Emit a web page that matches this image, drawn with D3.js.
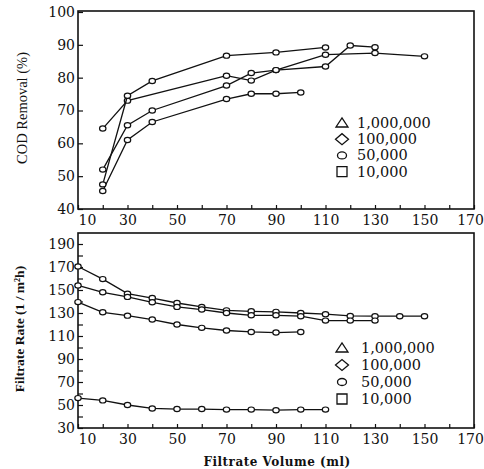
<!DOCTYPE html>
<html>
<head>
<meta charset="utf-8">
<script src="https://cdn.jsdelivr.net/npm/d3@7"></script>
<style>
  body { margin: 0; background: #fff; }
  svg { display: block; }
  .tick text { font-family: "DejaVu Serif", serif; font-size: 14px; fill: #111; }
  .tick line { stroke: #111; stroke-width: 1.2; }
  .domain { display: none; }
</style>
</head>
<body>
<svg width="484" height="469"></svg>
<script>
// legend labels (molecular weight cut-off)
var seriesNames = ["1,000,000", "100,000", "50,000", "10,000"];

// top panel: COD removal (%) vs filtrate volume (ml)
var codX_1M = [20, 30, 70, 80, 90, 110, 130, 150];
var codY_1M = [64.5, 73, 80.6, 79.1, 82.3, 87, 87.5, 86.5];
var codX_100k = [20, 30, 40, 70, 80, 90, 110, 120, 130];
var codY_100k = [52, 65.5, 70, 77.6, 81.4, 82.3, 83.4, 89.8, 89.3];
var codX_50k = [20, 30, 40, 70, 80, 90, 100];
var codY_50k = [45.5, 61, 66.5, 73.5, 75.1, 75.1, 75.5];
var codX_10k = [20, 30, 40, 70, 90, 110];
var codY_10k = [47.5, 74.5, 79, 86.7, 87.7, 89.2];

// bottom panel: filtrate rate (l/m2h) vs filtrate volume (ml)
var rateX_1M = [10, 20, 30, 40, 50, 60, 70, 80, 90, 100, 110, 120, 130, 140, 150];
var rateY_1M = [170.4, 159.5, 146.8, 143, 138.7, 135.3, 132.3, 131.5, 131, 130, 129, 127.5, 127.2, 127.2, 127.2];
var rateX_100k = [10, 20, 30, 40, 50, 60, 70, 80, 90, 100, 110, 120, 130];
var rateY_100k = [154, 148, 144, 139.3, 135.3, 133, 130, 128, 128, 127.2, 123.4, 123.4, 123.4];
var rateX_50k = [10, 20, 30, 40, 50, 60, 70, 80, 90, 100];
var rateY_50k = [139.5, 130.6, 127.7, 124.3, 120, 117.1, 114.8, 113.5, 113, 113.5];
var rateX_10k = [10, 20, 30, 40, 50, 60, 70, 80, 90, 100, 110];
var rateY_10k = [56, 54, 50, 47, 46.5, 46.5, 46, 46, 45.5, 46, 46];

var xTicks = d3.range(10, 171, 10);

var svg = d3.select("svg");

function zip(xs, ys) {
  return xs.map(function(d, i) { return [d, ys[i]]; });
}

// legend symbol shapes
function symbolPath(i) {
  if (i == 0) return "M-6,4L6,4L0,-5Z";
  if (i == 1) return "M-6.5,0L0,-5.5L6.5,0L0,5.5Z";
  if (i == 2) return "M-4.5,0A4.5,3.5 0 1,0 4.5,0A4.5,3.5 0 1,0 -4.5,0Z";
  return "M-5,-5L5,-5L5,5L-5,5Z";
}

function drawPanel(p) {
  var x = d3.scaleLinear().domain([10, 170]).range([78, 474]);
  var y = d3.scaleLinear().domain(p.yDomain).range([p.bottom, p.yTop]);
  var g = svg.append("g");

  // frame
  g.append("rect")
    .attr("x", 78)
    .attr("y", p.frameTop)
    .attr("width", 474 - 78)
    .attr("height", p.bottom - p.frameTop)
    .attr("fill", "none")
    .attr("stroke", "#111")
    .attr("stroke-width", 1.6);

  // x axis
  var xa = g.append("g")
    .attr("transform", "translate(0," + p.bottom + ")")
    .call(d3.axisBottom(x)
      .tickValues(xTicks)
      .tickSizeInner(-4)
      .tickSizeOuter(0)
      .tickPadding(6)
      .tickFormat(function(d) { return d % 20 == 10 ? d : ""; }));
  xa.selectAll(".tick text")
    .attr("dx", function(d) { return d == 10 ? 9 : (d == 170 ? -4 : 0); });

  // y axis
  g.append("g")
    .attr("transform", "translate(78,0)")
    .call(d3.axisLeft(y)
      .tickValues(p.yTicks)
      .tickSizeInner(-5)
      .tickSizeOuter(0)
      .tickPadding(3)
      .tickFormat(function(d) { return p.yLabels.indexOf(d) >= 0 ? d : ""; }));

  var line = d3.line()
    .x(function(d) { return x(d[0]); })
    .y(function(d) { return y(d[1]); });

  p.series.forEach(function(s) {
    g.append("path")
      .attr("d", line(s))
      .attr("fill", "none")
      .attr("stroke", "#111")
      .attr("stroke-width", 1.3);
    g.selectAll(null)
      .data(s)
      .enter().append("ellipse")
      .attr("cx", function(d) { return x(d[0]); })
      .attr("cy", function(d) { return y(d[1]); })
      .attr("rx", 3.2)
      .attr("ry", 2.6)
      .attr("fill", "#fff")
      .attr("stroke", "#111")
      .attr("stroke-width", 1.2);
  });

  // legend
  var lg = g.selectAll(".leg")
    .data(seriesNames)
    .enter().append("g")
    .attr("transform", function(d, i) {
      return "translate(342," + (p.legendY + i * p.legendStep) + ")";
    });
  lg.append("path")
    .attr("d", function(d, i) { return symbolPath(i); })
    .attr("fill", "none")
    .attr("stroke", "#111")
    .attr("stroke-width", 1.3);
  lg.append("text")
    .attr("x", p.legendTextX)
    .attr("dy", "0.35em")
    .attr("font-family", "DejaVu Serif, serif")
    .attr("font-size", "14.5px")
    .attr("fill", "#111")
    .text(function(d) { return d; });

  // y title
  g.append("text")
    .attr("transform", "translate(" + p.titleX + "," + p.titleY + ") rotate(-90)")
    .attr("text-anchor", "middle")
    .attr("dy", "0.35em")
    .attr("font-family", "Liberation Serif, serif")
    .attr("font-size", p.titleSize)
    .attr("font-weight", p.titleWeight)
    .attr("fill", "#111")
    .text(p.title);
}

drawPanel({
  yDomain: [40, 100], yTop: 12, frameTop: 11, bottom: 209,
  yTicks: d3.range(40, 101, 10), yLabels: d3.range(40, 101, 10),
  series: [zip(codX_1M, codY_1M), zip(codX_100k, codY_100k), zip(codX_50k, codY_50k), zip(codX_10k, codY_10k)],
  legendY: 123, legendStep: 16.2, legendTextX: 15,
  title: "COD Removal (%)", titleX: 22, titleY: 108, titleSize: "14.5px", titleWeight: "normal"
});

drawPanel({
  yDomain: [30, 190], yTop: 244, frameTop: 233, bottom: 428,
  yTicks: d3.range(30, 191, 10), yLabels: d3.range(30, 191, 20),
  series: [zip(rateX_1M, rateY_1M), zip(rateX_100k, rateY_100k), zip(rateX_50k, rateY_50k), zip(rateX_10k, rateY_10k)],
  legendY: 348, legendStep: 17, legendTextX: 19,
  title: "Filtrate Rate (1 / m²h)", titleX: 19, titleY: 329, titleSize: "13.5px", titleWeight: "bold"
});

svg.append("text")
  .attr("x", 277)
  .attr("y", 466)
  .attr("text-anchor", "middle")
  .attr("font-family", "DejaVu Serif, serif")
  .attr("font-size", "12px")
  .attr("font-weight", "bold")
  .attr("letter-spacing", "0.5px")
  .attr("fill", "#111")
  .text("Filtrate Volume (ml)");
</script>
</body>
</html>
